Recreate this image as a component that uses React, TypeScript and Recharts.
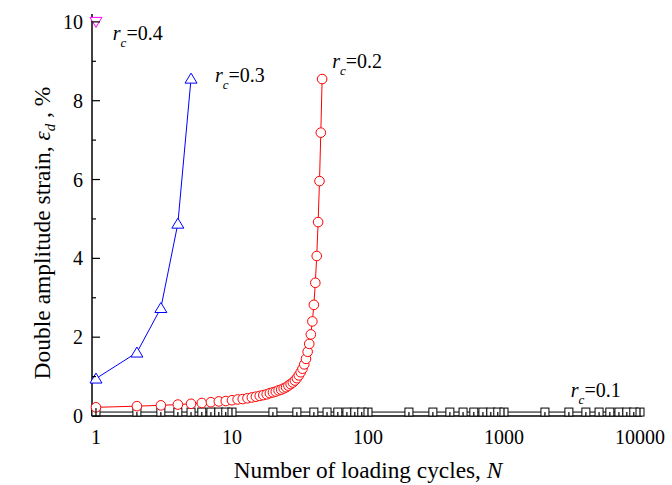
import { LineChart, Line, XAxis, YAxis, ReferenceDot } from "recharts";

const FONT = '"Liberation Serif", "Times New Roman", serif';

// r_c = 0.1 (no liquefaction, strain stays near zero)
const rc01Cycles = [
  1, 2, 3, 4, 5, 6, 7, 8, 9, 10,
  20, 30, 40, 50, 60, 70, 80, 90, 100,
  200, 300, 400, 500, 600, 700, 800, 900, 1000,
  2000, 3000, 4000, 5000, 6000, 7000, 8000, 9000, 10000,
];
const rc01Strain = [
  0.1, 0.1, 0.1, 0.1, 0.1, 0.1, 0.1, 0.1, 0.1, 0.1,
  0.1, 0.1, 0.1, 0.1, 0.1, 0.1, 0.1, 0.1, 0.1,
  0.1, 0.1, 0.1, 0.1, 0.1, 0.1, 0.1, 0.1, 0.1,
  0.1, 0.1, 0.1, 0.1, 0.1, 0.1, 0.1, 0.1, 0.1,
];

// r_c = 0.2
const rc02Cycles = [
  1, 2, 3, 4, 5, 6, 7, 8, 9, 10, 11, 12, 13, 14, 15, 16, 17, 18, 19, 20, 21, 22, 23,
  24, 25, 26, 27, 28, 29, 30, 31, 32, 33, 34, 35, 36, 37, 38, 39, 40, 41, 42, 43, 44, 45, 46,
];
const rc02Strain = [
  0.22, 0.25, 0.27, 0.29, 0.31, 0.33, 0.35, 0.37, 0.38, 0.4, 0.42, 0.43, 0.45, 0.47, 0.49,
  0.51, 0.53, 0.55, 0.58, 0.6, 0.62, 0.65, 0.67, 0.7, 0.73, 0.77, 0.81, 0.85, 0.9, 0.96,
  1.03, 1.11, 1.2, 1.31, 1.45, 1.63, 1.83, 2.07, 2.4, 2.82, 3.38, 4.06, 4.92, 5.96, 7.19, 8.55,
];

// r_c = 0.3
const rc03Cycles = [1, 2, 3, 4, 5];
const rc03Strain = [0.95, 1.61, 2.74, 4.88, 8.56];

// r_c = 0.4
const rc04Cycles = [1];
const rc04Strain = [10];

const xMajorTicks = [1, 10, 100, 1000, 10000];
const xMinorTicks = [
  2, 3, 4, 5, 6, 7, 8, 9,
  20, 30, 40, 50, 60, 70, 80, 90,
  200, 300, 400, 500, 600, 700, 800, 900,
  2000, 3000, 4000, 5000, 6000, 7000, 8000, 9000,
];
const yMajorTicks = [0, 2, 4, 6, 8, 10];
const yMinorTicks = [1, 3, 5, 7, 9];

const labelCycles = [1.33, 7.5, 54.6, 3100];
const labelStrain = [9.54, 8.47, 8.83, 0.48];
const labelValues = ["0.4", "0.3", "0.2", "0.1"];

const xTicks = [...xMajorTicks, ...xMinorTicks].sort((a, b) => a - b);
const yTicks = [...yMajorTicks, ...yMinorTicks].sort((a, b) => a - b);

const toRows = (xs: number[], ys: number[]) => xs.map((n, i) => ({ n, y: ys[i] }));
const rc01Data = toRows(rc01Cycles, rc01Strain);
const rc02Data = toRows(rc02Cycles, rc02Strain);
const rc03Data = toRows(rc03Cycles, rc03Strain);
const rc04Data = toRows(rc04Cycles, rc04Strain);

const AXIS = "#000";
const X_DOMAIN = [0.935, 10344];
const Y_DOMAIN = [0, 10.2];

function BottomTick(props: any) {
  const { x, y, payload } = props;
  const major = xMajorTicks.includes(payload.value);
  return (
    <g>
      <line x1={x} y1={y} x2={x} y2={y - (major ? 8 : 4)} stroke={AXIS} strokeWidth={1.2} />
      {major && (
        <text x={x} y={y + 28} textAnchor="middle" fontFamily={FONT} fontSize={20} fill="#000">
          {payload.value}
        </text>
      )}
    </g>
  );
}

function TopTick(props: any) {
  const { x, y, payload } = props;
  const major = xMajorTicks.includes(payload.value);
  return <line x1={x} y1={y} x2={x} y2={y + (major ? 8 : 4)} stroke={AXIS} strokeWidth={1.2} />;
}

function LeftTick(props: any) {
  const { x, y, payload } = props;
  const major = yMajorTicks.includes(payload.value);
  return (
    <g>
      <line x1={x} y1={y} x2={x + (major ? 8 : 4)} y2={y} stroke={AXIS} strokeWidth={1.2} />
      {major && (
        <text x={x - 9} y={y + 7} textAnchor="end" fontFamily={FONT} fontSize={20} fill="#000">
          {payload.value}
        </text>
      )}
    </g>
  );
}

function RightTick(props: any) {
  const { x, y, payload } = props;
  const major = yMajorTicks.includes(payload.value);
  return <line x1={x} y1={y} x2={x - (major ? 8 : 4)} y2={y} stroke={AXIS} strokeWidth={1.2} />;
}

const Square = (p: any) => (
  <rect x={p.cx - 4} y={p.cy - 4} width={8} height={8} fill="#fff" stroke="#000" strokeWidth={1} />
);
const Circle = (p: any) => <circle cx={p.cx} cy={p.cy} r={4.8} fill="#fff" stroke="#ff0000" strokeWidth={1} />;
const TriUp = (p: any) => (
  <path
    d={`M${p.cx},${p.cy - 5.5}L${p.cx + 6},${p.cy + 4.5}L${p.cx - 6},${p.cy + 4.5}Z`}
    fill="#fff"
    stroke="#0000ff"
    strokeWidth={1}
  />
);
const TriDown = (p: any) => (
  <path
    d={`M${p.cx},${p.cy + 5.5}L${p.cx + 6},${p.cy - 4.5}L${p.cx - 6},${p.cy - 4.5}Z`}
    fill="#fff"
    stroke="#ff00ff"
    strokeWidth={1}
  />
);

function RcLabel({ cx, cy, value }: { cx: number; cy: number; value: string }) {
  return (
    <text x={cx} y={cy} fontFamily={FONT} fontSize={20} fill="#000">
      <tspan fontStyle="italic">r</tspan>
      <tspan fontStyle="italic" fontSize={13} dy={7}>
        c
      </tspan>
      <tspan dy={-7}>={value}</tspan>
    </text>
  );
}

export default function App() {
  return (
    <div style={{ position: "fixed", left: 0, top: 0, background: "#fff" }}>
      <LineChart width={672} height={485} margin={{ top: 14, right: 30, left: 0, bottom: 0 }}>
        <XAxis
          dataKey="n"
          type="number"
          scale="log"
          domain={X_DOMAIN}
          ticks={xTicks}
          interval={0}
          tickLine={false}
          tickSize={0}
          tickMargin={0}
          tick={<BottomTick />}
          height={69}
          axisLine={{ stroke: AXIS, strokeWidth: 1.5 }}
          label={{
            content: () => (
              <text x={368} y={478} textAnchor="middle" fontFamily={FONT} fontSize={23.3} fill="#000">
                Number of loading cycles, <tspan fontStyle="italic">N</tspan>
              </text>
            ),
          }}
        />
        <XAxis
          xAxisId="top"
          orientation="top"
          dataKey="n"
          type="number"
          scale="log"
          domain={X_DOMAIN}
          allowDataOverflow
          ticks={xTicks}
          interval={0}
          tickLine={false}
          tickSize={0}
          tickMargin={0}
          tick={<TopTick />}
          height={0}
          axisLine={{ stroke: AXIS, strokeWidth: 1.5 }}
        />
        <YAxis
          type="number"
          domain={Y_DOMAIN}
          ticks={yTicks}
          interval={0}
          tickLine={false}
          tickSize={0}
          tickMargin={0}
          tick={<LeftTick />}
          width={92}
          axisLine={{ stroke: AXIS, strokeWidth: 1.5 }}
          label={{
            content: () => (
              <text
                transform="translate(50,233) rotate(-90)"
                textAnchor="middle"
                fontFamily={FONT}
                fontSize={23.5}
                fill="#000"
              >
                Double amplitude strain, <tspan fontStyle="italic">ε</tspan>
                <tspan fontStyle="italic" fontSize={15} dy={5}>
                  d
                </tspan>
                <tspan dy={-5}> , %</tspan>
              </text>
            ),
          }}
        />
        <YAxis
          yAxisId="right"
          orientation="right"
          type="number"
          domain={Y_DOMAIN}
          allowDataOverflow
          ticks={yTicks}
          interval={0}
          tickLine={false}
          tickSize={0}
          tickMargin={0}
          tick={<RightTick />}
          width={0}
          axisLine={{ stroke: AXIS, strokeWidth: 1.5 }}
        />
        <Line
          data={rc01Data}
          dataKey="y"
          stroke="#000"
          strokeWidth={1}
          dot={<Square />}
          activeDot={false}
          isAnimationActive={false}
        />
        <Line
          data={rc02Data}
          dataKey="y"
          stroke="#ff0000"
          strokeWidth={1}
          dot={<Circle />}
          activeDot={false}
          isAnimationActive={false}
        />
        <Line
          data={rc03Data}
          dataKey="y"
          stroke="#0000ff"
          strokeWidth={1}
          dot={<TriUp />}
          activeDot={false}
          isAnimationActive={false}
        />
        <Line
          data={rc04Data}
          dataKey="y"
          stroke="#ff00ff"
          strokeWidth={1}
          dot={<TriDown />}
          activeDot={false}
          isAnimationActive={false}
        />
        {labelCycles.map((n, i) => (
          <ReferenceDot
            key={labelValues[i]}
            x={n}
            y={labelStrain[i]}
            r={0}
            ifOverflow="visible"
            shape={(p: any) => <RcLabel cx={p.cx} cy={p.cy} value={labelValues[i]} />}
          />
        ))}
      </LineChart>
    </div>
  );
}
